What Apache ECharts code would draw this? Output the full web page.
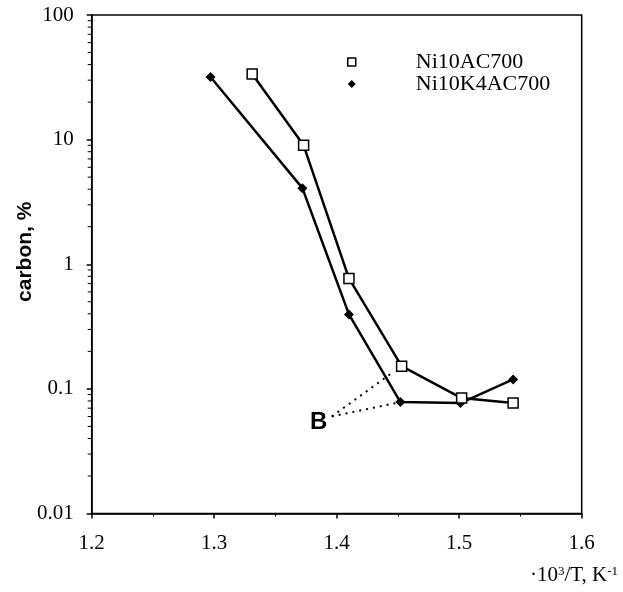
<!DOCTYPE html>
<html>
<head>
<meta charset="utf-8">
<script src="https://cdn.jsdelivr.net/npm/echarts@6/dist/echarts.min.js"></script>
<style>
html,body{margin:0;padding:0;background:#fff;}
#chart{width:623px;height:592px;}
</style>
</head>
<body>
<div id="chart"></div>
<script>
// ---- data ----
const xTicks = [1.2, 1.3, 1.4, 1.5, 1.6];
const yTicks = [0.01, 0.1, 1, 10, 100];
const yTickLabels = ['0.01', '0.1', '1', '10', '100'];
const ni10Name = 'Ni10AC700';
const ni10X = [1.331, 1.373, 1.410, 1.453, 1.502, 1.544];
const ni10Y = [33.6, 9.0, 0.77, 0.152, 0.0844, 0.0769];
const ni10kName = 'Ni10K4AC700';
const ni10kX = [1.297, 1.372, 1.410, 1.452, 1.501, 1.544];
const ni10kY = [31.8, 4.08, 0.396, 0.0783, 0.077, 0.119];
const bPoint = [1.396, 0.0601];
const bUpperEnd = [1.445, 0.134];
const bLowerEnd = [1.452, 0.0783];
const bLabel = 'B';

const yMinorTicks = [];
for (let e = -2; e < 2; e++) {
  for (let m = 2; m <= 9; m++) yMinorTicks.push(m * Math.pow(10, e));
}

const zip = (xs, ys) => xs.map((x, i) => [x, ys[i]]);

const chart = echarts.init(document.getElementById('chart'), null, {renderer: 'canvas'});
const serif = 'Liberation Serif';
const sans = 'Liberation Sans';

const option = {
  backgroundColor: '#fff',
  animation: false,
  grid: {
    left: 91.7, right: 623 - 581.7, top: 15, bottom: 592 - 513.5,
    show: true, borderColor: '#000', borderWidth: 1.5, backgroundColor: 'transparent'
  },
  legend: {
    orient: 'vertical',
    left: 342, top: 46,
    itemWidth: 8, itemHeight: 8,
    itemGap: 0,
    selectedMode: false,
    data: [
      {name: ni10Name, icon: 'rect', itemStyle: {color: '#fff', borderColor: '#000', borderWidth: 1.5}},
      {name: ni10kName, icon: 'diamond', itemStyle: {color: '#000', borderWidth: 0}}
    ],
    textStyle: {fontFamily: serif, fontSize: 22, color: '#000', padding: [0, 0, 0, 55]}
  },
  xAxis: {
    type: 'value', min: 1.2, max: 1.6, interval: 0.1,
    axisLine: {show: true, lineStyle: {color: '#000', width: 1.5}},
    axisTick: {show: true, inside: false, length: 5, lineStyle: {color: '#000', width: 1.5}},
    minorTick: {show: true, splitNumber: 2, length: 3, lineStyle: {color: '#000', width: 1}},
    splitLine: {show: false},
    axisLabel: {
      margin: 19, fontFamily: serif, fontSize: 21, color: '#000',
      formatter: v => {
        const i = xTicks.findIndex(t => Math.abs(t - v) < 1e-6);
        return i >= 0 ? xTicks[i].toFixed(1) : '';
      }
    }
  },
  yAxis: {
    type: 'log', logBase: 10, min: 0.01, max: 100,
    name: 'carbon, %',
    nameLocation: 'middle',
    nameGap: 56,
    nameRotate: 90,
    nameMoveOverlap: false,
    nameTextStyle: {fontFamily: sans, fontWeight: 'bold', fontSize: 21, color: '#000', padding: [0, 0, 0, 25]},
    axisLine: {show: true, lineStyle: {color: '#000', width: 1.5}},
    axisTick: {show: true, inside: false, length: 5, lineStyle: {color: '#000', width: 1.5}},
    splitLine: {show: false},
    axisLabel: {
      margin: 18, fontFamily: serif, fontSize: 21, color: '#000',
      formatter: v => {
        const i = yTicks.findIndex(t => Math.abs(Math.log10(t) - Math.log10(v)) < 1e-6);
        return i >= 0 ? yTickLabels[i] : '';
      }
    }
  },
  graphic: [{
    type: 'text',
    right: 623 - 618,
    top: 565,
    style: {
      text: '·10{s|3}/T, K{s|-1}',
      font: '21px "Liberation Serif"',
      fill: '#000',
      rich: {
        s: {fontSize: 13, fontFamily: serif, verticalAlign: 'top', lineHeight: 12, padding: [0, 0, 10, 0]}
      }
    }
  }],
  series: [
    {
      type: 'custom',
      name: 'minorY',
      silent: true,
      clip: false,
      data: yMinorTicks.map(v => [1.2, v]),
      renderItem: (params, api) => {
        const p = api.coord([api.value(0), api.value(1)]);
        return {
          type: 'line',
          shape: {x1: p[0] - 4, y1: p[1], x2: p[0], y2: p[1]},
          style: {stroke: '#000', lineWidth: 1}
        };
      },
      z: 1
    },
    {
      type: 'line',
      name: ni10kName,
      data: zip(ni10kX, ni10kY),
      symbol: 'diamond',
      symbolSize: 10,
      lineStyle: {color: '#000', width: 2.5},
      itemStyle: {color: '#000', borderColor: '#000', borderWidth: 0},
      z: 3
    },
    {
      type: 'line',
      name: ni10Name,
      data: zip(ni10X, ni10Y),
      symbol: 'rect',
      symbolSize: 10,
      lineStyle: {color: '#000', width: 2.5},
      itemStyle: {color: '#fff', borderColor: '#000', borderWidth: 1.5},
      z: 4
    },
    {
      type: 'line',
      name: 'B-upper',
      data: [bPoint, bUpperEnd],
      symbol: 'none',
      lineStyle: {color: '#000', width: 2, type: [2, 5]},
      z: 2
    },
    {
      type: 'line',
      name: 'B-lower',
      data: [bPoint, bLowerEnd],
      symbol: 'none',
      lineStyle: {color: '#000', width: 2, type: [2, 5]},
      z: 2
    },
    {
      type: 'scatter',
      name: 'B-label',
      data: [bPoint],
      symbol: 'circle',
      symbolSize: 1,
      itemStyle: {color: '#fff', opacity: 0},
      label: {
        show: true, position: 'left', distance: 4, offset: [0, 6],
        formatter: bLabel, opacity: 1,
        fontFamily: sans, fontWeight: 'bold', fontSize: 24, color: '#000', textBorderWidth: 0
      },
      z: 5
    }
  ]
};
chart.setOption(option);
</script>
</body>
</html>
